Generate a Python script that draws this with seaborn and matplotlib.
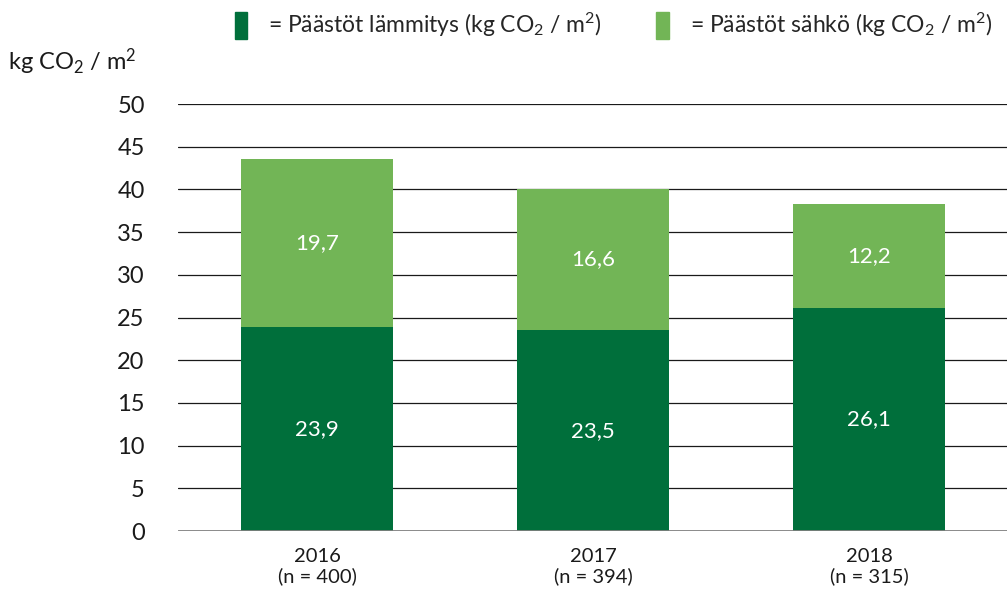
import matplotlib as mpl
import matplotlib.pyplot as plt
import pandas as pd
import seaborn as sns
from matplotlib.patches import Patch

YEARS = ["2016", "2017", "2018"]
SAMPLE_SIZES = [400, 394, 315]
HEATING = [23.9, 23.5, 26.1]
ELECTRICITY = [19.7, 16.6, 12.2]

DARK_GREEN = "#006F3B"
LIGHT_GREEN = "#72B556"
FONT = "Lato"


def main():
    sns.set_theme(style="white")
    mpl.rcParams.update({
        "font.family": [FONT, "DejaVu Sans"],
        "mathtext.default": "regular",
    })

    df = pd.DataFrame({
        "label": [f"{y}\n(n = {n})" for y, n in zip(YEARS, SAMPLE_SIZES)],
        "heating": HEATING,
        "electricity": ELECTRICITY,
    })
    df["total"] = df["heating"] + df["electricity"]

    fig = plt.figure(figsize=(10.07, 5.9), dpi=100)
    ax = fig.add_axes([0.1768, 0.1, 0.8232, 0.7237])

    for y in range(5, 55, 5):
        ax.axhline(y, color="#1a1a1a", linewidth=0.9, zorder=1)
    ax.axhline(0, color="#808080", linewidth=2.0, zorder=4)

    sns.barplot(data=df, x="label", y="total", color=LIGHT_GREEN, width=0.55,
                saturation=1, linewidth=0, ax=ax, zorder=2)
    sns.barplot(data=df, x="label", y="heating", color=DARK_GREEN, width=0.55,
                saturation=1, linewidth=0, ax=ax, zorder=3)

    for i, row in df.iterrows():
        ax.text(i, row["heating"] / 2, f"{row['heating']:.1f}".replace(".", ","),
                ha="center", va="center", color="white", fontsize=16, zorder=5)
        ax.text(i, row["heating"] + row["electricity"] / 2,
                f"{row['electricity']:.1f}".replace(".", ","),
                ha="center", va="center", color="white", fontsize=16, zorder=5)

    ax.set_xlim(-0.505, 2.5)
    ax.set_ylim(0, 50)
    ax.set_yticks(range(0, 55, 5))
    ax.set_xlabel("")
    ax.set_ylabel("")
    ax.tick_params(axis="y", length=0, pad=24, labelsize=17, labelcolor="#1a1a1a")
    ax.tick_params(axis="x", length=0, pad=12, labelsize=14.5, labelcolor="#1a1a1a")
    for lab in ax.get_yticklabels():
        lab.set_horizontalalignment("right")
    for s in ax.spines.values():
        s.set_visible(False)

    fig.text(0.008, 1 - 62 / 590, "kg CO$_2$ / m$^2$", fontsize=17,
             ha="left", va="center", color="#1a1a1a")

    handles = [
        Patch(color=DARK_GREEN, label="= Päästöt lämmitys (kg CO$_2$ / m$^2$)"),
        Patch(color=LIGHT_GREEN, label="= Päästöt sähkö (kg CO$_2$ / m$^2$)"),
    ]
    fig.legend(handles=handles, loc="center", bbox_to_anchor=(0.609, 0.958),
               ncol=2, frameon=False, fontsize=16.5, handlelength=0.55,
               handleheight=1.4, handletextpad=0.9, columnspacing=2.4)

    fig.savefig("out.png", dpi=100, facecolor="white")
    plt.close(fig)


if __name__ == "__main__":
    main()
